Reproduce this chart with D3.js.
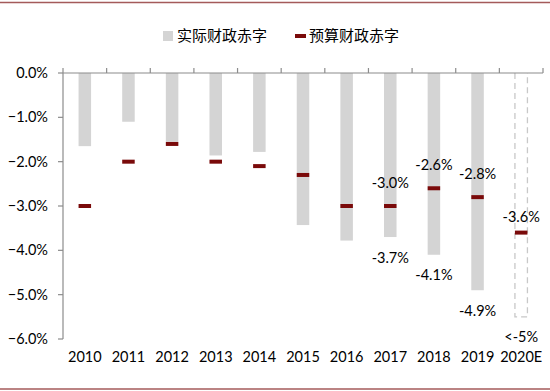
<!DOCTYPE html>
<html><head><meta charset="utf-8">
<script src="https://cdn.jsdelivr.net/npm/d3@7"></script>
<style>html,body{margin:0;padding:0;background:#fff;}svg{display:block;}</style>
</head><body>
<svg id="c" width="550" height="391"></svg>
<script>
const categories = ["2010","2011","2012","2013","2014","2015","2016","2017","2018","2019","2020E"];
const actualDeficit = [-1.65,-1.1,-1.55,-1.86,-1.78,-3.43,-3.78,-3.7,-4.1,-4.9,-5.5];
const budgetDeficit = [-3.0,-2.0,-1.6,-2.0,-2.1,-2.3,-3.0,-3.0,-2.6,-2.8,-3.6];
const yTicks = [0,-1,-2,-3,-4,-5,-6];
const budgetLabels = [null,null,null,null,null,null,null,"-3.0%","-2.6%","-2.8%","-3.6%"];
const actualLabels = [null,null,null,null,null,null,null,"-3.7%","-4.1%","-4.9%","<-5%"];
const legendNames = ["实际财政赤字","预算财政赤字"];

const svg = d3.select("#c");
const W = 550, H = 391;
const m = {left:63, right:543, top:73, bottom:339};
const x = d3.scaleBand().domain(categories).range([m.left, m.right]).paddingInner(0).paddingOuter(0);
const y = d3.scaleLinear().domain([0,-6]).range([m.top, m.bottom]);
const bw = 12.5;
const font = "Lato, 'Liberation Sans', sans-serif";

// frame lines top/bottom
svg.append("line").attr("x1",0).attr("x2",W).attr("y1",2.5).attr("y2",2.5).attr("stroke","#a45a5a").attr("stroke-width",1.5);
svg.append("line").attr("x1",0).attr("x2",W).attr("y1",389).attr("y2",389).attr("stroke","#a45a5a").attr("stroke-width",1.5);

// bars (solid ones)
const solid = categories.map((c,i)=>({c,v:actualDeficit[i],i})).filter(d=>d.c!=="2020E");
svg.selectAll("rect.bar").data(solid).join("rect")
  .attr("x",d=>x(d.c)+x.bandwidth()/2-bw/2).attr("width",bw)
  .attr("y",y(0)).attr("height",d=>y(d.v)-y(0)).attr("fill","#d4d4d4");
// dashed estimate bar
const est = categories.map((c,i)=>({c,v:actualDeficit[i]})).filter(d=>d.c==="2020E");
svg.selectAll("path.est").data(est).join("path")
  .attr("d",d=>{const x0=x(d.c)+x.bandwidth()/2-bw/2, x1=x0+bw, y0=y(0), y1=y(d.v);
    return `M${x0},${y0}V${y1}H${x1}V${y0}`;})
  .attr("fill","none").attr("stroke","#c8c8c8").attr("stroke-width",1.3).attr("stroke-dasharray","6,4");

// axes
const axG = svg.append("g");
axG.append("line").attr("x1",m.left).attr("x2",m.left).attr("y1",m.top).attr("y2",m.bottom).attr("stroke","#8c8c8c").attr("stroke-width",1.2);
axG.append("line").attr("x1",m.left).attr("x2",m.right).attr("y1",m.top).attr("y2",m.top).attr("stroke","#8c8c8c").attr("stroke-width",1.2);
const bounds = categories.map(c=>x(c)).concat([m.right]);
axG.selectAll("line.xt").data(bounds).join("line").attr("x1",d=>d).attr("x2",d=>d).attr("y1",m.top).attr("y2",m.top-5).attr("stroke","#8c8c8c").attr("stroke-width",1.2);
axG.selectAll("line.yt").data(yTicks).join("line").attr("x1",m.left-5).attr("x2",m.left).attr("y1",d=>y(d)).attr("y2",d=>y(d)).attr("stroke","#8c8c8c").attr("stroke-width",1.2);
axG.selectAll("text.yl").data(yTicks).join("text").attr("x",48).attr("y",d=>y(d)).attr("dy","0.35em")
  .attr("text-anchor","end").attr("font-family",font).attr("font-size",14.5).attr("fill","#000")
  .text(d=>d3.format(".1f")(d)+"%");
axG.selectAll("text.xl").data(categories).join("text").attr("x",d=>x(d)+x.bandwidth()/2).attr("y",362)
  .attr("text-anchor","middle").attr("font-family",font).attr("font-size",14.5).attr("fill","#000").text(d=>d);

// budget markers
svg.selectAll("rect.mk").data(categories.map((c,i)=>({c,v:budgetDeficit[i]}))).join("rect")
  .attr("x",d=>x(d.c)+x.bandwidth()/2-bw/2).attr("width",bw).attr("y",d=>y(d.v)-2).attr("height",4)
  .attr("fill","#7a0a0a");

// labels
const lab = svg.append("g").attr("font-family",font).attr("font-size",14.5).attr("text-anchor","middle").attr("fill","#000");
categories.forEach((c,i)=>{
  if(budgetLabels[i]) lab.append("text").attr("x",x(c)+x.bandwidth()/2).attr("y",y(budgetDeficit[i])-(c==="2020E"?11:18)).text(budgetLabels[i]);
  if(actualLabels[i]) lab.append("text").attr("x",x(c)+x.bandwidth()/2).attr("y",y(actualDeficit[i])+25.5).text(actualLabels[i]);
});

// legend
const lg = svg.append("g");
lg.append("rect").attr("x",163).attr("y",31).attr("width",10).attr("height",10).attr("fill","#d4d4d4");
lg.append("text").attr("x",177).attr("y",36).attr("dy","0.35em").attr("font-family","'Noto Sans CJK SC'").attr("font-size",15).text(legendNames[0]);
lg.append("rect").attr("x",295).attr("y",34).attr("width",11).attr("height",4).attr("fill","#7a0a0a");
lg.append("text").attr("x",309).attr("y",36).attr("dy","0.35em").attr("font-family","'Noto Sans CJK SC'").attr("font-size",15).text(legendNames[1]);
</script>
</body></html>
